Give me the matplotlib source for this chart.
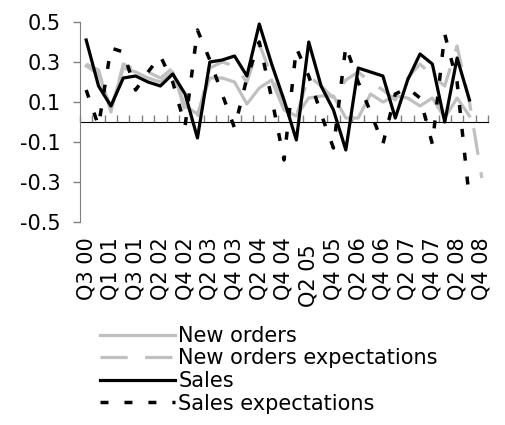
import numpy as np
import matplotlib.pyplot as plt

# quarterly survey balances, Q3 2000 - Q4 2008 (Q1 02 not surveyed)
quarters = ['Q3 00', 'Q4 00', 'Q1 01', 'Q2 01', 'Q3 01', 'Q4 01',
            'Q2 02', 'Q3 02', 'Q4 02', 'Q1 03', 'Q2 03', 'Q3 03', 'Q4 03',
            'Q1 04', 'Q2 04', 'Q3 04', 'Q4 04', 'Q1 05', 'Q2 05 ', 'Q3 05',
            'Q4 05', 'Q1 06', 'Q2 06', 'Q3 06', 'Q4 06', 'Q1 07', 'Q2 07',
            'Q3 07', 'Q4 07', 'Q1 08', 'Q2 08', 'Q3 08', 'Q4 08']

new_orders = [0.28, 0.24, 0.07, 0.27, 0.25, 0.22, 0.20, 0.25, 0.08, 0.04,
              0.22, 0.22, 0.20, 0.09, 0.17, 0.21, 0.06, 0.03, 0.12, 0.13,
              0.13, 0.02, 0.02, 0.14, 0.10, 0.13, 0.12, 0.08, 0.12, 0.02,
              0.12, 0.03, np.nan]
new_orders_exp = [0.29, 0.26, 0.05, 0.29, 0.26, 0.25, 0.22, 0.27, 0.05, 0.02,
                  0.27, 0.30, 0.28, 0.20, 0.39, 0.23, 0.07, 0.03, 0.23, 0.18,
                  0.12, 0.21, 0.25, 0.20, 0.16, 0.11, 0.22, 0.29, 0.23, 0.18,
                  0.38, 0.10, -0.28]
sales = [0.41, 0.18, 0.08, 0.22, 0.23, 0.20, 0.18, 0.24, 0.14, -0.08,
         0.30, 0.31, 0.33, 0.23, 0.49, 0.29, 0.11, -0.09, 0.40, 0.18,
         0.06, -0.14, 0.27, 0.25, 0.23, 0.02, 0.21, 0.34, 0.29, 0.00,
         0.32, 0.11, np.nan]
sales_exp = [0.16, -0.02, 0.37, 0.35, 0.16, 0.25, 0.33, 0.20, -0.02, 0.46,
             0.31, 0.14, -0.03, 0.22, 0.40, 0.12, -0.19, 0.37, 0.23, 0.04,
             -0.13, 0.38, 0.20, 0.05, -0.11, 0.14, 0.17, 0.12, -0.11, 0.44,
             0.20, -0.39, np.nan]

plt.rcParams['font.family'] = 'DejaVu Sans'
plt.rcParams['font.size'] = 15

fig = plt.figure(figsize=(5.05, 4.25), dpi=100)
ax = fig.add_axes([80 / 505, 1 - 222 / 425, 408 / 505, 200 / 425])

x = np.arange(len(quarters))
grey = '#c0c0c0'
ax.plot(x, new_orders, color=grey, lw=2.3, label='New orders')
ax.plot(x, new_orders_exp, color=grey, lw=2.3, dashes=(8.5, 5.5),
        label='New orders expectations')
ax.plot(x, sales, color='black', lw=2.3, label='Sales')
ax.plot(x, sales_exp, color='black', lw=2.5, dashes=(2.3, 4.6),
        label='Sales expectations')

ax.set_xlim(-0.5, len(quarters) - 0.5)
ax.set_ylim(-0.5, 0.5)
ax.set_yticks([-0.5, -0.3, -0.1, 0.1, 0.3, 0.5])
ax.set_yticklabels(['-0.5', '-0.3', '-0.1', '0.1', '0.3', '0.5'])

for s in ['top', 'right', 'bottom']:
    ax.spines[s].set_visible(False)
ax.spines['left'].set_color('#808080')
ax.tick_params(axis='y', direction='out', length=5, width=1,
               color='#808080', pad=9)

# category labels sit below the plot, every second quarter
ax.set_xticks(x[::2])
ax.set_xticklabels(quarters[::2], rotation=90, va='top', ha='center')
ax.tick_params(axis='x', length=0, pad=11)

# zero line with category separators
zero_ax = ax.secondary_xaxis(0.5)
zero_ax.spines['bottom'].set_color('#808080')
zero_ax.set_xticks(np.arange(len(quarters) + 1) - 0.5)
zero_ax.set_xticklabels([])
zero_ax.tick_params(direction='out', length=5, width=1, color='#808080')

ax.legend(loc='upper left', bbox_to_anchor=(100 / 505, 1 - 326 / 425),
          bbox_transform=fig.transFigure,
          frameon=False, handlelength=3.6, handletextpad=0.15,
          labelspacing=0.12, borderpad=0, borderaxespad=0)

fig.savefig('out.png', dpi=100)
